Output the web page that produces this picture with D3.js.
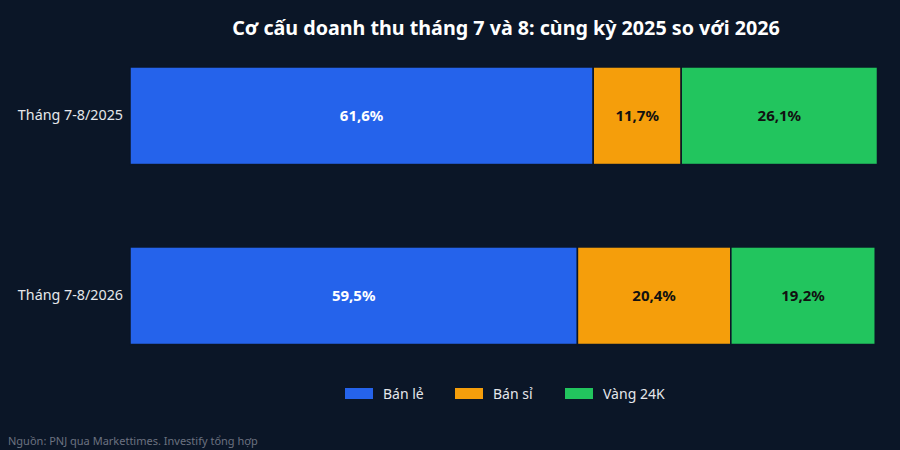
<!DOCTYPE html>
<html>
<head>
<meta charset="utf-8">
<script src="https://cdn.jsdelivr.net/npm/d3@7"></script>
<style>
  body { margin: 0; background: #0b1627; }
  svg { display: block; font-family: "Noto Sans", sans-serif; }
</style>
</head>
<body>
<svg id="chart"></svg>
<script>
// data
const periods = ["Tháng 7-8/2025", "Tháng 7-8/2026"];
const segments = ["Bán lẻ", "Bán sỉ", "Vàng 24K"];
const banLe = [61.6, 59.5];
const banSi = [11.7, 20.4];
const vang24k = [26.1, 19.2];
const colors = ["#2563eb", "#f59e0b", "#22c55e"];
const labelColors = ["#ffffff", "#111111", "#111111"];

const width = 900, height = 450;
const marginTop = 13, marginRight = 18, marginBottom = 51.5, marginLeft = 130;
const bg = "#0b1627";

const rows = periods.map((p, i) => ({ period: p, values: [banLe[i], banSi[i], vang24k[i]] }));

const svg = d3.select("#chart")
  .attr("width", width)
  .attr("height", height)
  .attr("viewBox", [0, 0, width, height]);

svg.append("rect").attr("width", width).attr("height", height).attr("fill", bg);

const x = d3.scaleLinear().domain([0, 100]).range([marginLeft, width - marginRight]);
const y = d3.scaleBand().domain(periods).range([marginTop, height - marginBottom]).paddingInner(0.458).paddingOuter(0.3);

// title
svg.append("text")
  .attr("x", (marginLeft + width - marginRight) / 2)
  .attr("y", 35)
  .attr("text-anchor", "middle")
  .attr("fill", "#ffffff")
  .attr("font-size", 19.7)
  .attr("font-weight", "bold")
  .text("Cơ cấu doanh thu tháng 7 và 8: cùng kỳ 2025 so với 2026");

// stacked segments
const seg = svg.append("g")
  .selectAll("g")
  .data(rows)
  .join("g")
  .selectAll("g")
  .data(d => {
    let acc = 0;
    return d.values.map((v, k) => {
      const s = { period: d.period, k, x0: acc, x1: acc + v, v };
      acc += v;
      return s;
    });
  })
  .join("g");

seg.append("rect")
  .attr("x", d => x(d.x0))
  .attr("y", d => y(d.period))
  .attr("width", d => x(d.x1) - x(d.x0))
  .attr("height", y.bandwidth())
  .attr("fill", d => colors[d.k])
  .attr("stroke", bg)
  .attr("stroke-width", 1.5);

seg.append("text")
  .attr("x", d => (x(d.x0) + x(d.x1)) / 2)
  .attr("y", d => y(d.period) + y.bandwidth() / 2)
  .attr("dy", "0.35em")
  .attr("text-anchor", "middle")
  .attr("fill", d => labelColors[d.k])
  .attr("font-size", 15)
  .attr("font-weight", "bold")
  .text(d => d3.format(".1f")(d.v).replace(".", ",") + "%");

// y axis
svg.append("g")
  .attr("transform", `translate(${marginLeft},0)`)
  .call(d3.axisLeft(y).tickSize(0).tickPadding(7))
  .call(g => g.select(".domain").remove())
  .call(g => g.selectAll("text")
    .attr("fill", "#e5e7eb")
    .attr("font-size", 14.3)
    .attr("font-family", "Noto Sans, sans-serif"));

// legend
const legendX = [345, 455, 565];
const legend = svg.append("g")
  .selectAll("g")
  .data(segments)
  .join("g")
  .attr("transform", (d, i) => `translate(${legendX[i]},388)`);

legend.append("rect")
  .attr("width", 28)
  .attr("height", 11)
  .attr("fill", (d, i) => colors[i]);

legend.append("text")
  .attr("x", 38)
  .attr("y", 6)
  .attr("dy", "0.35em")
  .attr("fill", "#e5e7eb")
  .attr("font-size", 14)
  .text(d => d);

// source
svg.append("text")
  .attr("x", 8)
  .attr("y", 445)
  .attr("fill", "#6b7280")
  .attr("font-size", 11)
  .text("Nguồn: PNJ qua Markettimes. Investify tổng hợp");
</script>
</body>
</html>
